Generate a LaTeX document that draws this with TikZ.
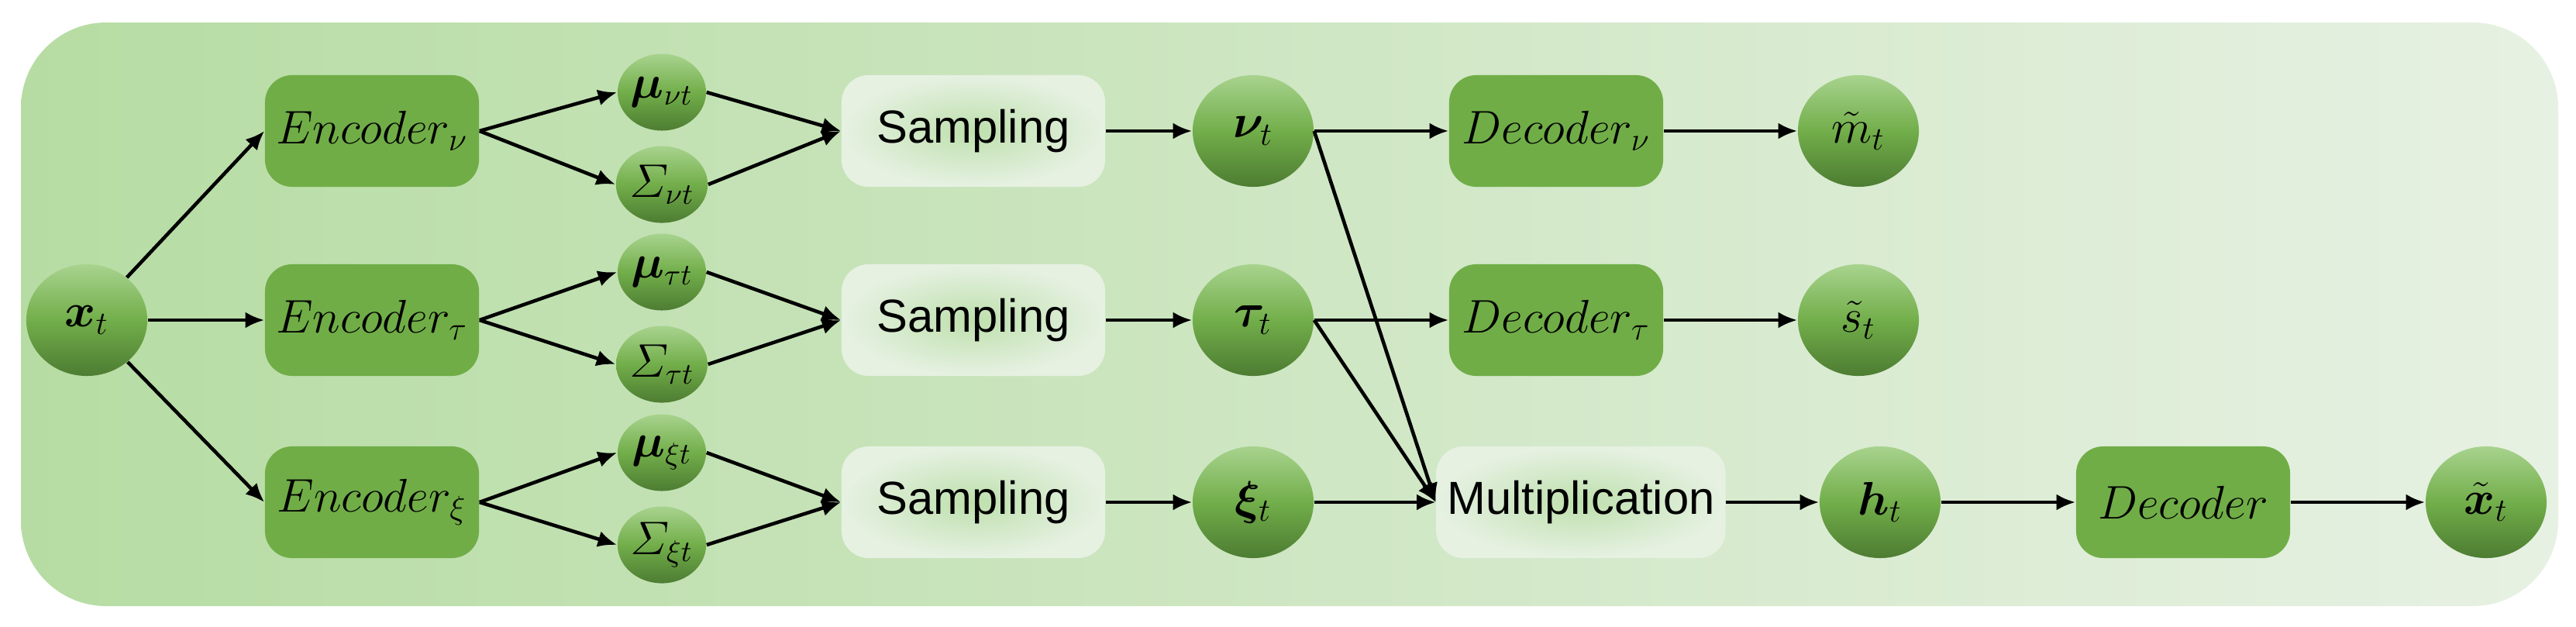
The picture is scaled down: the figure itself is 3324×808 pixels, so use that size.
\documentclass[tikz,border=0pt]{standalone}
\usepackage{amsmath,bm}
\usepackage{fontspec}
\setmainfont{Liberation Sans}
\usetikzlibrary{shapes.geometric,arrows.meta}
\definecolor{bgL}{HTML}{B6DCA3}
\definecolor{bgR}{HTML}{E7F1E3}
\definecolor{encF}{HTML}{70AD47}
\definecolor{elT}{HTML}{A8D38E}
\definecolor{elM}{HTML}{72AE4A}
\definecolor{elB}{HTML}{4D7C32}
\definecolor{smpI}{HTML}{BEE0AD}
\definecolor{smpO}{HTML}{E6F1E2}
\begin{document}
\begin{tikzpicture}[x=0.01cm,y=-0.01cm,
  enc/.style={draw=none,rounded corners=0.35cm,fill=encF,minimum width=2.76cm,minimum height=1.44cm,font=\fontsize{18}{20}\selectfont},
  smp/.style={draw=none,rounded corners=0.35cm,inner color=smpI,outer color=smpO,minimum width=3.4cm,minimum height=1.44cm,font=\fontsize{17}{20}\selectfont},
  el/.style={ellipse,top color=elT,bottom color=elB,middle color=elM,minimum width=1.56cm,minimum height=1.44cm,inner sep=0pt,font=\fontsize{18}{20}\selectfont},
  sel/.style={ellipse,top color=elT,bottom color=elB,middle color=elM,minimum width=1.14cm,minimum height=0.99cm,inner sep=0pt,font=\fontsize{16}{18}\selectfont},
  ar/.style={-{Latex[length=7pt,width=6pt]},line width=1.3pt}]
\useasboundingbox (0,0) rectangle (3324,808);
\shade[left color=bgL,right color=bgR,rounded corners=1.1cm] (27,29) rectangle (3301,782);
\node[el] (xt) at (112,413) {$\bm{x}_t$};
\node[enc] (Ev) at (480,169) {$Encoder_{\nu}$};
\node[enc] (Et) at (480,413) {$Encoder_{\tau}$};
\node[enc] (Ex) at (480,648) {$Encoder_{\xi}$};
\node[smp] (Sv) at (1256,169) {Sampling};
\node[smp] (St) at (1256,413) {Sampling};
\node[smp] (Sx) at (1256,648) {Sampling};
\node[sel] (Mv) at (854,119) {$\bm{\mu}_{\nu t}$};
\node[sel] (Cv) at (854,238) {$\varSigma_{\nu t}$};
\node[sel] (Mt) at (854,351) {$\bm{\mu}_{\tau t}$};
\node[sel] (Ct) at (854,470) {$\varSigma_{\tau t}$};
\node[sel] (Mx) at (854,584) {$\bm{\mu}_{\xi t}$};
\node[sel] (Cx) at (854,703) {$\varSigma_{\xi t}$};
\node[el] (nt) at (1617,169) {$\bm{\nu}_t$};
\node[el] (tt) at (1617,413) {$\bm{\tau}_t$};
\node[el] (ft) at (1617,648) {$\bm{\xi}_t$};
\node[enc] (Dv) at (2008,169) {$Decoder_{\nu}$};
\node[enc] (Dt) at (2008,413) {$Decoder_{\tau}$};
\node[el] (mt) at (2398,169) {$\tilde{m}_t$};
\node[el] (st) at (2398,413) {$\tilde{s}_t$};
\node[smp,minimum width=3.73cm] (Mu) at (2040,648) {Multiplication};
\node[el] (ht) at (2426,648) {$\bm{h}_t$};
\node[enc] (D) at (2817,648) {$Decoder$};
\node[el] (xh) at (3208,648) {$\tilde{\bm{x}}_t$};
\draw[ar] (xt) -- (Ev.west);
\draw[ar] (xt) -- (Et);
\draw[ar] (xt) -- (Ex.west);
\foreach \n in {v,t,x}{
  \draw[ar] (E\n.east) -- (M\n.west);
  \draw[ar] (E\n.east) -- (C\n.west);
  \draw[ar] (M\n.east) -- (S\n.west);
  \draw[ar] (C\n.east) -- (S\n.west);
}
\draw[ar] (Sv) -- (nt);
\draw[ar] (St) -- (tt);
\draw[ar] (Sx) -- (ft);
\draw[ar] (nt) -- (Dv);
\draw[ar] (tt) -- (Dt);
\draw[ar] (Dv) -- (mt);
\draw[ar] (Dt) -- (st);
\draw[ar] (ft) -- (Mu);
\draw[ar] (nt.east) -- (Mu.west);
\draw[ar] (tt.east) -- (Mu.west);
\draw[ar] (Mu) -- (ht);
\draw[ar] (ht) -- (D);
\draw[ar] (D) -- (xh);
\end{tikzpicture}
\end{document}
